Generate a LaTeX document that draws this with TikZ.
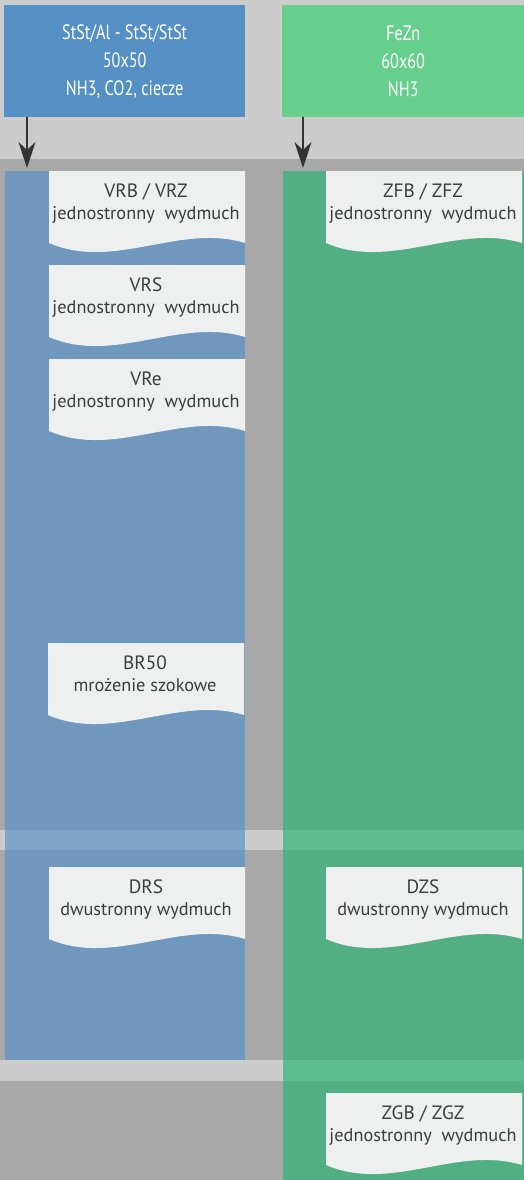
\documentclass[tikz,border=0pt]{standalone}
\usepackage{fontspec}
\setmainfont{PT Sans}
\newfontfamily\condfont[FakeStretch=0.78]{PT Sans}
\usetikzlibrary{arrows.meta}

\definecolor{bglight}{HTML}{CCCCCC}
\definecolor{bgdark}{HTML}{A8A8A8}
\definecolor{hdrblue}{HTML}{5590C5}
\definecolor{hdrgreen}{HTML}{66CF8E}
\definecolor{colblue}{HTML}{7098BE}
\definecolor{colgreen}{HTML}{52AF84}
\definecolor{stripeblue}{HTML}{7EA6CB}
\definecolor{stripegreen}{HTML}{5EBD90}
\definecolor{docfill}{HTML}{EEF0EF}
\definecolor{doctext}{HTML}{3C3C3C}
\definecolor{arrowgray}{HTML}{333333}

\tikzset{
  header/.style={fill=#1, text=white, font=\condfont\fontsize{20.8}{28}\selectfont,
    align=center, minimum width=241pt, minimum height=112pt, inner sep=0pt, anchor=north west},
  column/.style={fill=#1, minimum width=240pt, anchor=north west, inner sep=0pt},
  doctitle/.style={text=doctext, font=\fontsize{19.3}{22}\selectfont, anchor=base, inner sep=0pt},
  docsub/.style={text=doctext, font=\fontsize{18.3}{21}\selectfont, anchor=base, inner sep=0pt},
  flow/.style={arrowgray, line width=2pt, -{Stealth[length=26pt,width=17pt,inset=8pt]}},
}

% wave-bottom sheet: x, y (top left), name, title, subtitle
\newcommand{\wavedoc}[5]{%
  \fill[docfill] (#1,#2) -- (#1+196,#2) -- (#1+196,#2+72)
    .. controls (#1+131,#2+52) and (#1+65,#2+100) .. (#1,#2+72) -- cycle;
  \node[doctitle] (#3) at (#1+97,#2+26) {#4};
  \node[docsub] (#3-sub) at (#1+97,#2+48) {#5};
}

\begin{document}
\begin{tikzpicture}[x=1pt,y=-1pt]
\useasboundingbox (0,0) rectangle (524,1180);

% background bands
\fill[bgdark] (0,0) rectangle (524,1180);
\fill[bglight] (0,0) rectangle (524,159);

% columns
\node[column=colblue, minimum height=889pt] (colA) at (5,171) {};
\node[column=colgreen, minimum width=241pt, minimum height=1009pt] (colB) at (283,171) {};

% light stripes
\fill[bglight] (0,830) rectangle (524,850);
\fill[stripeblue] (5,830) rectangle (245,850);
\fill[stripegreen] (283,830) rectangle (524,850);
\fill[bglight] (0,1060) rectangle (524,1081);
\fill[stripegreen] (283,1060) rectangle (524,1081);

% headers
\node[header=hdrblue] (hdrA) at (4,5) {StSt/Al - StSt/StSt\\50x50\\NH3, CO2, ciecze};
\node[header=hdrgreen, minimum width=242pt] (hdrB) at (282,5) {FeZn\\60x60\\NH3};

\draw[flow] ([xshift=23pt]hdrA.south west) -- ([xshift=22pt,yshift=3pt]colA.north west);
\draw[flow] ([xshift=21pt]hdrB.south west) -- ([xshift=20pt,yshift=3pt]colB.north west);

% sheets, left column
\wavedoc{49}{171}{vrb}{VRB / VRZ}{jednostronny\ \ wydmuch}
\wavedoc{49}{265}{vrs}{VRS}{jednostronny\ \ wydmuch}
\wavedoc{49}{359}{vre}{VRe}{jednostronny\ \ wydmuch}
\wavedoc{48}{643}{br}{BR50}{mrożenie szokowe}
\wavedoc{49}{867}{drs}{DRS}{dwustronny wydmuch}

% sheets, right column
\wavedoc{326}{171}{zfb}{ZFB / ZFZ}{jednostronny\ \ wydmuch}
\wavedoc{326}{867}{dzs}{DZS}{dwustronny wydmuch}
\wavedoc{326}{1093}{zgb}{ZGB / ZGZ}{jednostronny\ \ wydmuch}
\end{tikzpicture}
\end{document}
